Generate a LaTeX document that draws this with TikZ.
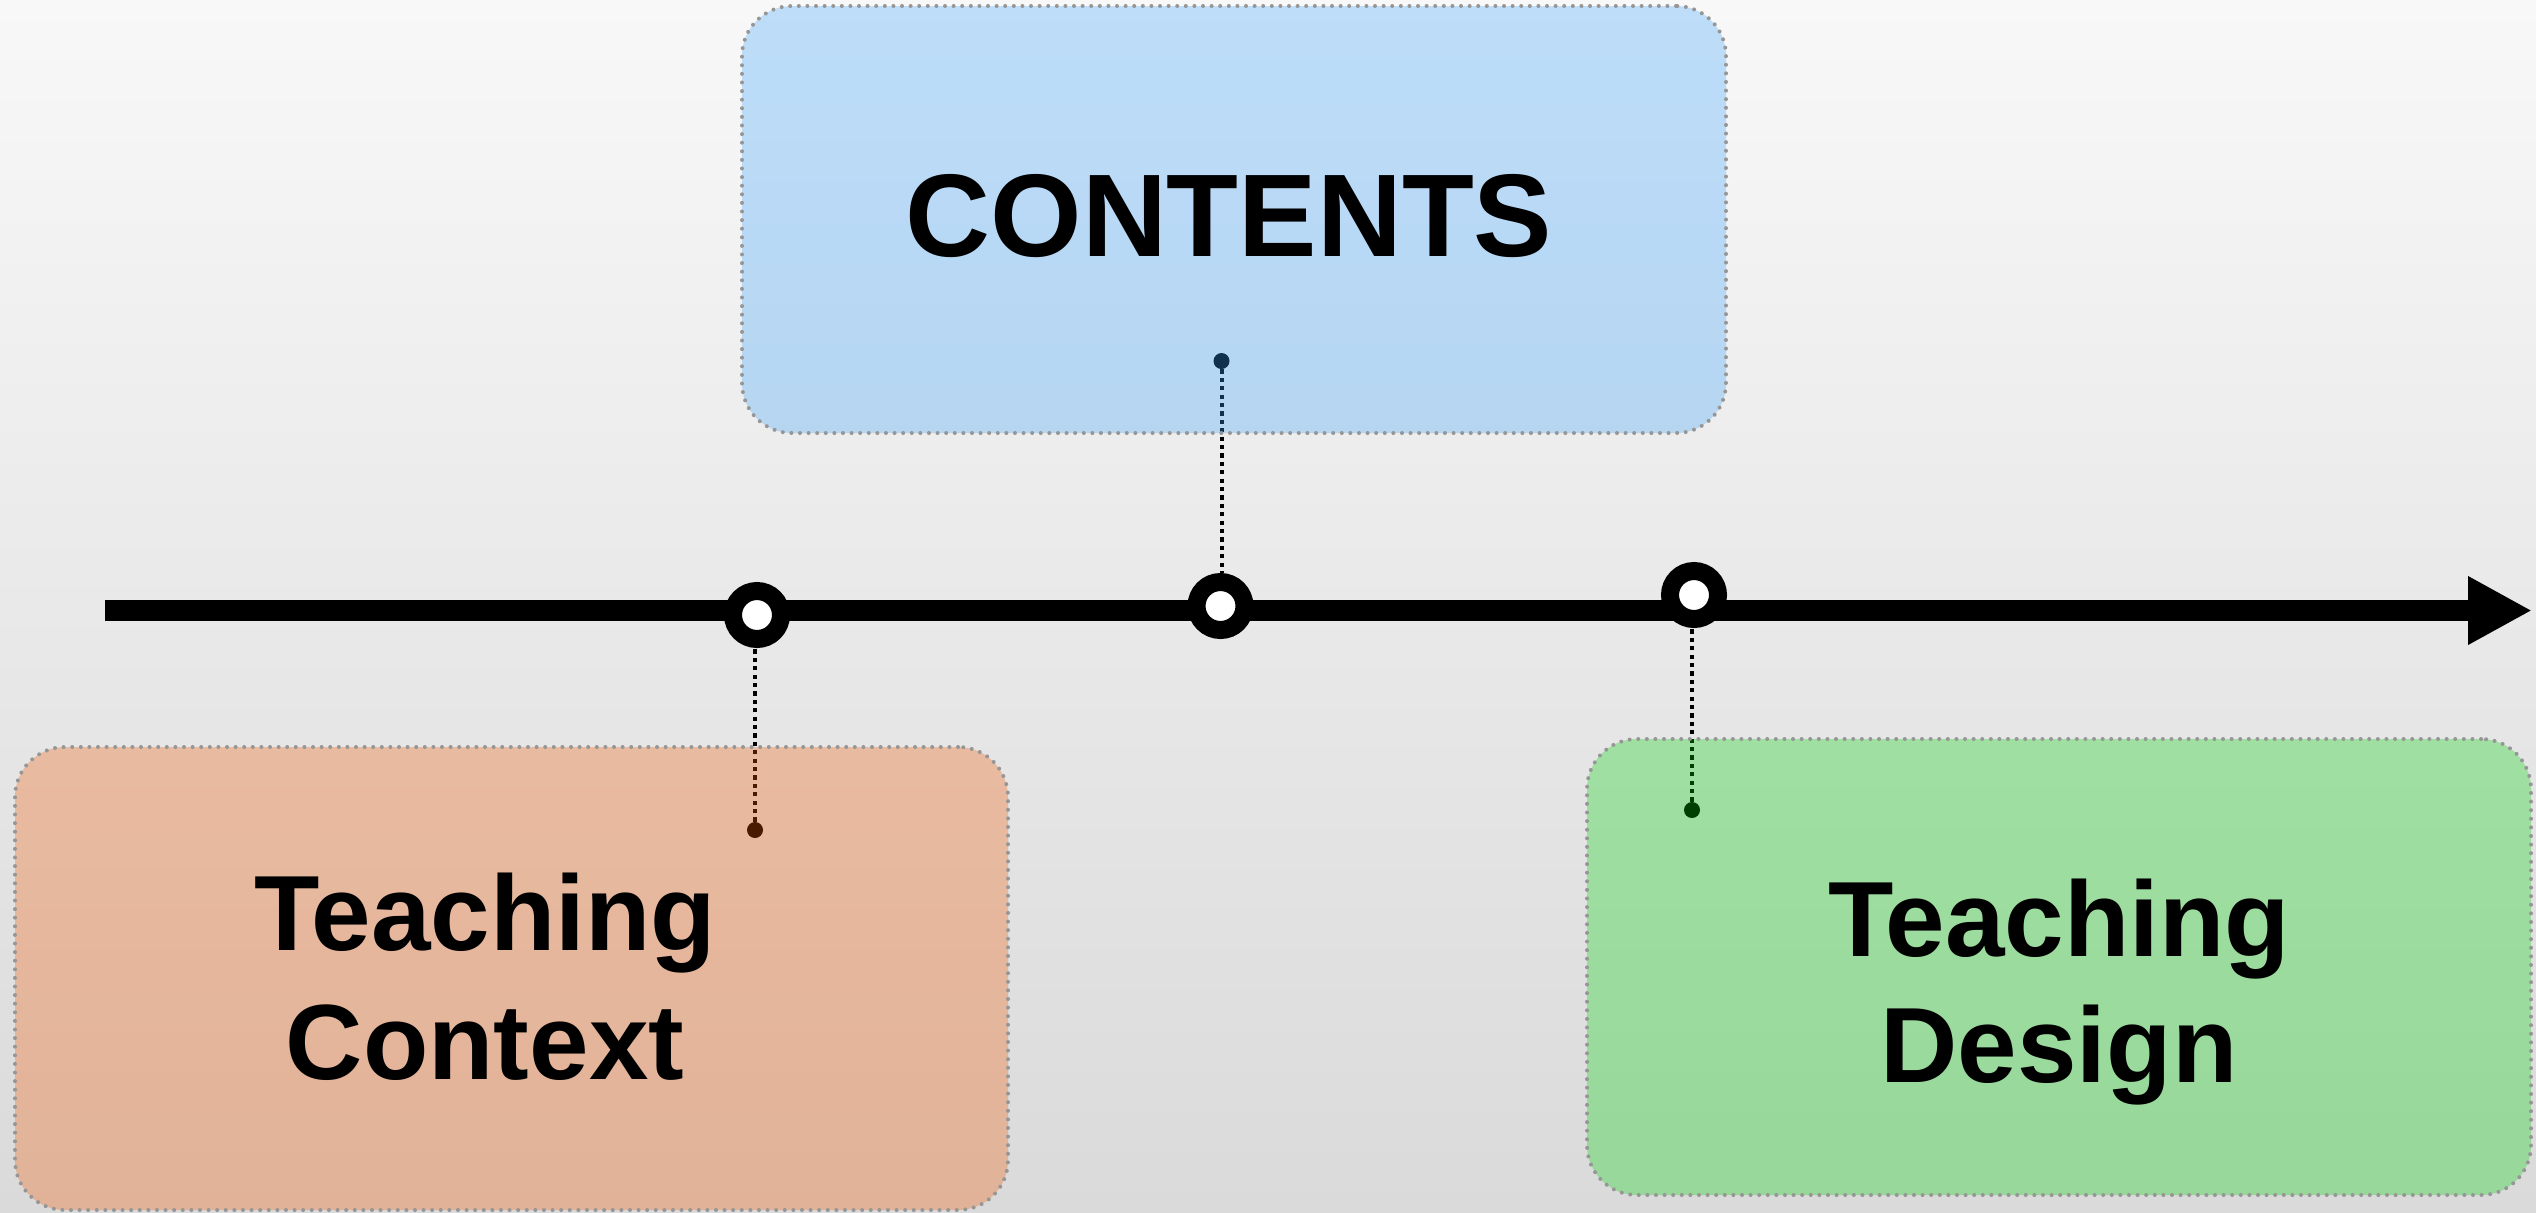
\documentclass[tikz,border=0pt]{standalone}
\usepackage{fontspec}
\setmainfont{Liberation Sans}
\usetikzlibrary{arrows.meta}
\definecolor{bgtop}{RGB}{248,248,248}
\definecolor{bgbot}{RGB}{218,218,218}
\definecolor{cblue}{RGB}{53,160,253}
\definecolor{corange}{RGB}{242,88,0}
\definecolor{cgreen}{RGB}{0,210,7}
\definecolor{bordergray}{RGB}{150,150,150}
\begin{document}
\begin{tikzpicture}[x=0.5pt,y=-0.5pt,
  box/.style={rectangle, rounded corners=25pt, inner sep=0pt, outer sep=0pt, fill opacity=0.3, draw=bordergray, line width=2pt, dash pattern=on 0pt off 4.3pt, line cap=round},
  ring/.style={circle, draw=black, fill=white, line width=9pt, minimum size=24pt, inner sep=0pt},
  pin/.style={circle, fill=black, minimum size=8pt, inner sep=0pt},
  conn/.style={draw=black, line width=2pt, dash pattern=on 2.1pt off 2.1pt},
  axis/.style={line width=10.5pt, -{Triangle[length=32pt,width=32pt]}},
  lbl/.style={anchor=base, inner sep=0pt, font=\bfseries\fontsize{53.5pt}{64pt}\selectfont},
  title/.style={anchor=base, inner sep=0pt, font=\bfseries\fontsize{58.8pt}{70pt}\selectfont}
]
\useasboundingbox (0,0) rectangle (2536,1212);
\shade[top color=bgtop,bottom color=bgbot] (0,0) rectangle (2536,1212);
\coordinate (axL) at (105,610.5);
\coordinate (axR) at (2532,610.5);
\draw[axis] (axL) -- (axR);
\node[ring] (cA) at (757,615) {};
\node[ring] (cB) at (1220.5,606) {};
\node[ring] (cC) at (1694,595) {};
\node[pin] (pA) at (755,830) {};
\node[pin] (pB) at (1221.5,361) {};
\node[pin] (pC) at (1692,810) {};
\draw[conn] (pA) -- (pA |- cA.south);
\draw[conn] (pB) -- (pB |- cB.north);
\draw[conn] (pC) -- (pC |- cC.south);
\node[box, fill=cblue, minimum width=492pt, minimum height=213.5pt] (bB) at (1234,219.5) {};
\node[box, fill=corange, minimum width=496.5pt, minimum height=231.5pt] (bA) at (511.5,978.5) {};
\node[box, fill=cgreen, minimum width=472pt, minimum height=228pt] (bC) at (2059,967) {};
\node[title] (tB) at (1229,256) {CONTENTS};
\node[lbl] (tA1) at (485,950) {Teaching};
\node[lbl] (tA2) at (485,1079) {Context};
\node[lbl] (tC1) at (2059,956) {Teaching};
\node[lbl] (tC2) at (2059,1082) {Design};
\end{tikzpicture}
\end{document}
